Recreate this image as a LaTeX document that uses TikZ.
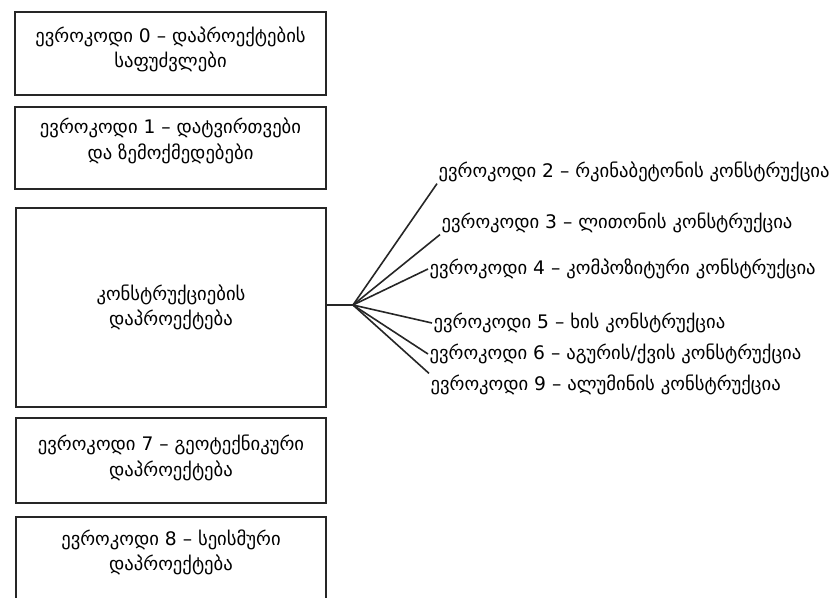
\documentclass[tikz,border=0pt]{standalone}
\usepackage{fontspec}
\setmainfont{DejaVu Sans}
\usepackage{tikz}

\begin{document}
\begin{tikzpicture}[x=0.75pt,y=0.75pt,yscale=-1,xscale=1,
  every node/.style={font=\fontsize{14}{19}\selectfont},
  box/.style={draw=black!85, line width=1.3pt, minimum width=233pt, align=center, inner sep=0pt},
  lbl/.style={anchor=west, inner sep=1pt},
  link/.style={draw=black!85, line width=1.2pt}]
%set diagram to the page size, 839 x 597
\path[use as bounding box, clip] (0,0) rectangle (839,597);

%Shape: Rectangle [box 0]
\node[box, minimum height=62.25pt, text depth=9pt] (ec0) at (170.5,53.5) {ევროკოდი 0 – დაპროექტების\\საფუძვლები};
%Shape: Rectangle [box 1]
\node[box, minimum height=61.5pt, text depth=14pt] (ec1) at (170.5,148) {ევროკოდი 1 – დატვირთვები\\და ზემოქმედებები};
%Shape: Rectangle [box design]
\node[box, minimum height=149.25pt] (des) at (171,307.5) {კონსტრუქციების\\დაპროექტება};
%Shape: Rectangle [box 7]
\node[box, minimum height=63.75pt, text depth=7pt] (ec7) at (171,460.5) {ევროკოდი 7 – გეოტექნიკური\\დაპროექტება};
%Shape: Rectangle [box 8]
\node[box, minimum height=72pt, text depth=22.5pt] (ec8) at (171,565) {ევროკოდი 8 – სეისმური\\დაპროექტება};

% Text Node
\node[lbl] (ec2) at (437,172) {ევროკოდი 2 – რკინაბეტონის კონსტრუქცია};
% Text Node
\node[lbl] (ec3) at (440,223) {ევროკოდი 3 – ლითონის კონსტრუქცია};
% Text Node
\node[lbl] (ec4) at (428,269) {ევროკოდი 4 – კომპოზიტური კონსტრუქცია};
% Text Node
\node[lbl] (ec5) at (432,323) {ევროკოდი 5 – ხის კონსტრუქცია};
% Text Node
\node[lbl] (ec6) at (428,354) {ევროკოდი 6 – აგურის/ქვის კონსტრუქცია};
% Text Node
\node[lbl] (ec9) at (429,385) {ევროკოდი 9 – ალუმინის კონსტრუქცია};

%Straight Lines [fan]
\coordinate (hub) at (353,305);
\draw[link] (des.east |- hub) -- (hub);
\draw[link] (hub) -- (ec2.south west);
\draw[link] (hub) -- (ec3.south west);
\draw[link] (hub) -- (ec4.west);
\draw[link] (hub) -- (ec5.west);
\draw[link] (hub) -- (ec6.west);
\draw[link] (hub) -- (ec9.north west);
\end{tikzpicture}
\end{document}
